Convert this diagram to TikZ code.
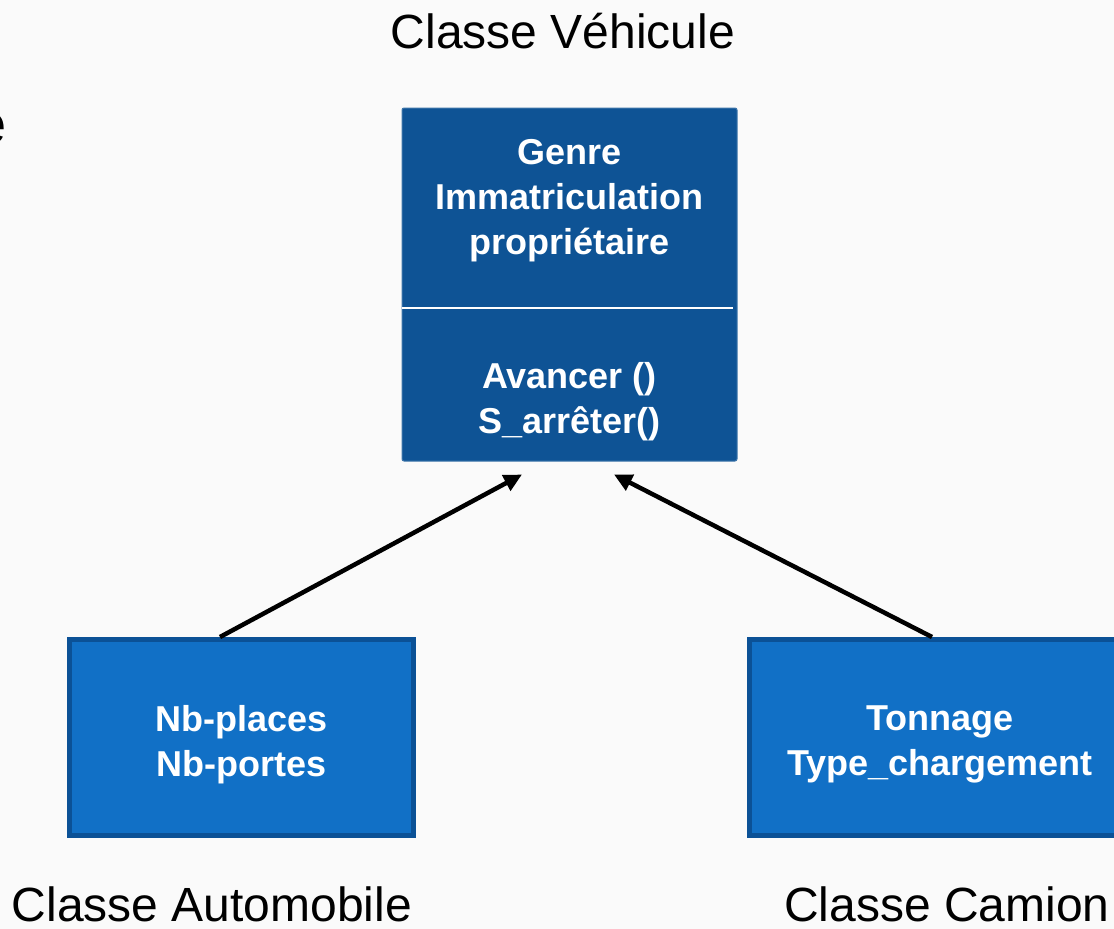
\documentclass[tikz,border=0pt]{standalone}
\usepackage{fontspec}
\setmainfont{Liberation Sans}
\usetikzlibrary{arrows.meta}

\definecolor{bleufonce}{RGB}{14,83,149}
\definecolor{bleuclair}{RGB}{17,112,198}
\definecolor{bleubord}{RGB}{11,81,150}

\tikzstyle{classe}=[rectangle,draw=bleufonce!80!white,fill=bleufonce,line width=1pt,
rounded corners=2pt,minimum width=335pt,minimum height=353pt]
\tikzstyle{sousclasse}=[rectangle,draw=bleubord,fill=bleuclair,line width=5pt,
minimum height=196pt]
\tikzstyle{champs}=[text=white,align=center,font=\bfseries\fontsize{36}{45}\selectfont]
\tikzstyle{titre}=[anchor=base,inner sep=0pt,font=\fontsize{48}{58}\selectfont]
\tikzstyle{heritage}=[draw,line width=4.5pt,-{Triangle[length=18pt,width=17pt]}]

\begin{document}
\begin{tikzpicture}[x=1pt,y=-1pt]
\path [use as bounding box,fill=black!2] (0,0) rectangle (1114,929);
\node [anchor=base east,inner sep=0pt,font=\fontsize{56}{66}\selectfont] (reste) at (7,143) {e};

\node [classe] (vehicule) at (569.5,284.5) {};
\node [champs] (attributs) at (569.5,201) {Genre\\Immatriculation\\propriétaire};
\node [champs] (methodes) at (569.5,402) {Avancer ()\\S\_arrêter()};
\draw [white,line width=2pt] ([yshift=-200pt]vehicule.north west) -- ([xshift=-5pt,yshift=-200pt]vehicule.north east);

\node [sousclasse,minimum width=344pt] (automobile) at (241.5,737.5) {};
\node [champs] (tauto) at (241.5,744.5) {Nb-places\\Nb-portes};
\node [sousclasse,minimum width=381pt] (camion) at (940,737.5) {};
\node [champs] (tcam) at (940,744.5) {Tonnage\\Type\_chargement};

\node [titre] (nvehicule) at (563,48) {Classe Véhicule};
\node [titre] (nautomobile) at (212,921) {Classe Automobile};
\node [titre] (ncamion) at (947,921) {Classe Camion};

\path [heritage] ([xshift=-21.5pt]automobile.north) -- ([xshift=-47.5pt,yshift=-13pt]vehicule.south);
\path [heritage] ([xshift=-8pt]camion.north) -- ([xshift=44.5pt,yshift=-13pt]vehicule.south);
\end{tikzpicture}
\end{document}
